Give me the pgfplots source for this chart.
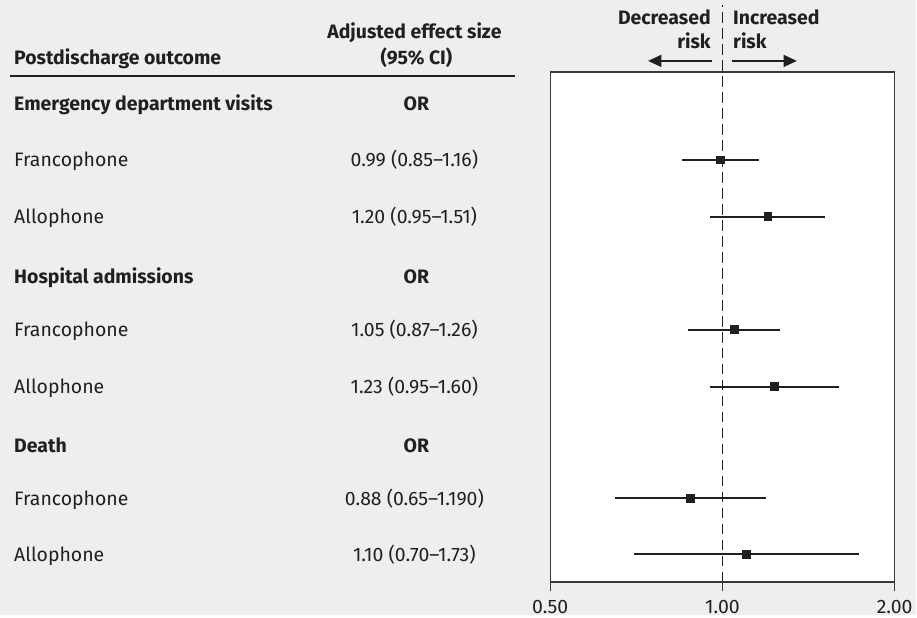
\documentclass[border=0pt]{standalone}
\usepackage{pgfplots}
\pgfplotsset{compat=1.18}
\usepackage{pgfplotstable}
\usepackage{fontspec}
\setmainfont{Fira Sans}
\usetikzlibrary{arrows.meta}
\definecolor{bg}{HTML}{EEEEEE}
\definecolor{txt}{HTML}{231F20}
\definecolor{frame}{HTML}{3A3A3A}

\pgfplotstableread{
row est
-160 0.99
-217 1.20
-330 1.05
-387 1.23
-499 0.88
-555 1.10
}\estimates

\newcommand\fs{\fontsize{14.6}{17}\selectfont}

\begin{document}
\begin{tikzpicture}
\fill[bg] (0pt,0pt) rectangle (687.75pt,-462pt);
\begin{axis}[
  at={(413.25pt,-437.25pt)}, anchor=south west,
  scale only axis, width=258.75pt, height=383.25pt,
  xmode=log, xmin=0.5, xmax=2, ymin=-583, ymax=-72,
  xtick={0.5,1,2}, xticklabels={\mbox{0.50},\mbox{1.00},\mbox{2.00}},
  xminorticks=false, ytick=\empty,
  xtick pos=bottom, tick align=outside, major tick length=6.75pt,
  axis background/.style={fill=white},
  axis line style={draw=frame, line width=1pt},
  xtick style={draw=frame, line width=1pt},
  xticklabel style={font=\fs, text=txt, yshift=-3pt},
  clip=false,
]
\addplot[txt, line width=1.2pt, dash pattern=on 8pt off 4pt] coordinates {(1,-583) (1,-5)};
\addplot[txt, line width=1.5pt] coordinates {(0.85,-160) (1.16,-160)};
\addplot[txt, line width=1.5pt] coordinates {(0.95,-217) (1.51,-217)};
\addplot[txt, line width=1.5pt] coordinates {(0.87,-330.5) (1.26,-330.5)};
\addplot[txt, line width=1.5pt] coordinates {(0.95,-387.5) (1.60,-387.5)};
\addplot[txt, line width=1.5pt] coordinates {(0.65,-499) (1.19,-499)};
\addplot[txt, line width=1.5pt] coordinates {(0.70,-555) (1.73,-555)};
\addplot[only marks, mark=square*, mark size=3pt, mark options={fill=txt, draw=txt}] table[x=est, y=row] {\estimates};
\end{axis}
\begin{scope}[x=0.75pt, y=-0.75pt, every node/.style={inner sep=0pt, text=txt, font=\fs}]
  % headers
  \node[anchor=base west, font=\fs\bfseries] at (14,65) {Postdischarge outcome};
  \node[anchor=base, font=\fs\bfseries] at (415,39) {Adjusted effect size};
  \node[anchor=base, font=\fs\bfseries] at (417,65) {(95\% CI)};
  \draw[txt, line width=1.5pt] (10,76) -- (516,76);
  % direction labels
  \node[anchor=base east, font=\fs\bfseries] at (712,25) {Decreased};
  \node[anchor=base east, font=\fs\bfseries] at (712,49) {risk};
  \node[anchor=base west, font=\fs\bfseries] at (734,25) {Increased};
  \node[anchor=base west, font=\fs\bfseries] at (734,49) {risk};
  \draw[txt, line width=1.2pt, -{Triangle[length=10pt,width=9pt]}] (713,61) -- (649,61);
  \draw[txt, line width=1.2pt, -{Triangle[length=10pt,width=9pt]}] (733,61) -- (798,61);
  % group 1
  \node[anchor=base west, font=\fs\bfseries] at (14,111) {Emergency department visits};
  \node[anchor=base, font=\fs\bfseries] at (417,111) {OR};
  \node[anchor=base west] at (14,167) {Francophone};
  \node[anchor=base] at (415,167) {0.99 (0.85–1.16)};
  \node[anchor=base west] at (14,224) {Allophone};
  \node[anchor=base] at (415,224) {1.20 (0.95–1.51)};
  % group 2
  \node[anchor=base west, font=\fs\bfseries] at (14,284) {Hospital admissions};
  \node[anchor=base, font=\fs\bfseries] at (417,284) {OR};
  \node[anchor=base west] at (14,337) {Francophone};
  \node[anchor=base] at (415,337) {1.05 (0.87–1.26)};
  \node[anchor=base west] at (14,394) {Allophone};
  \node[anchor=base] at (415,394) {1.23 (0.95–1.60)};
  % group 3
  \node[anchor=base west, font=\fs\bfseries] at (14,453) {Death};
  \node[anchor=base, font=\fs\bfseries] at (417,453) {OR};
  \node[anchor=base west] at (14,506) {Francophone};
  \node[anchor=base] at (415,506) {0.88 (0.65–1.190)};
  \node[anchor=base west] at (14,562) {Allophone};
  \node[anchor=base] at (415,562) {1.10 (0.70–1.73)};
\end{scope}
\end{tikzpicture}
\end{document}
